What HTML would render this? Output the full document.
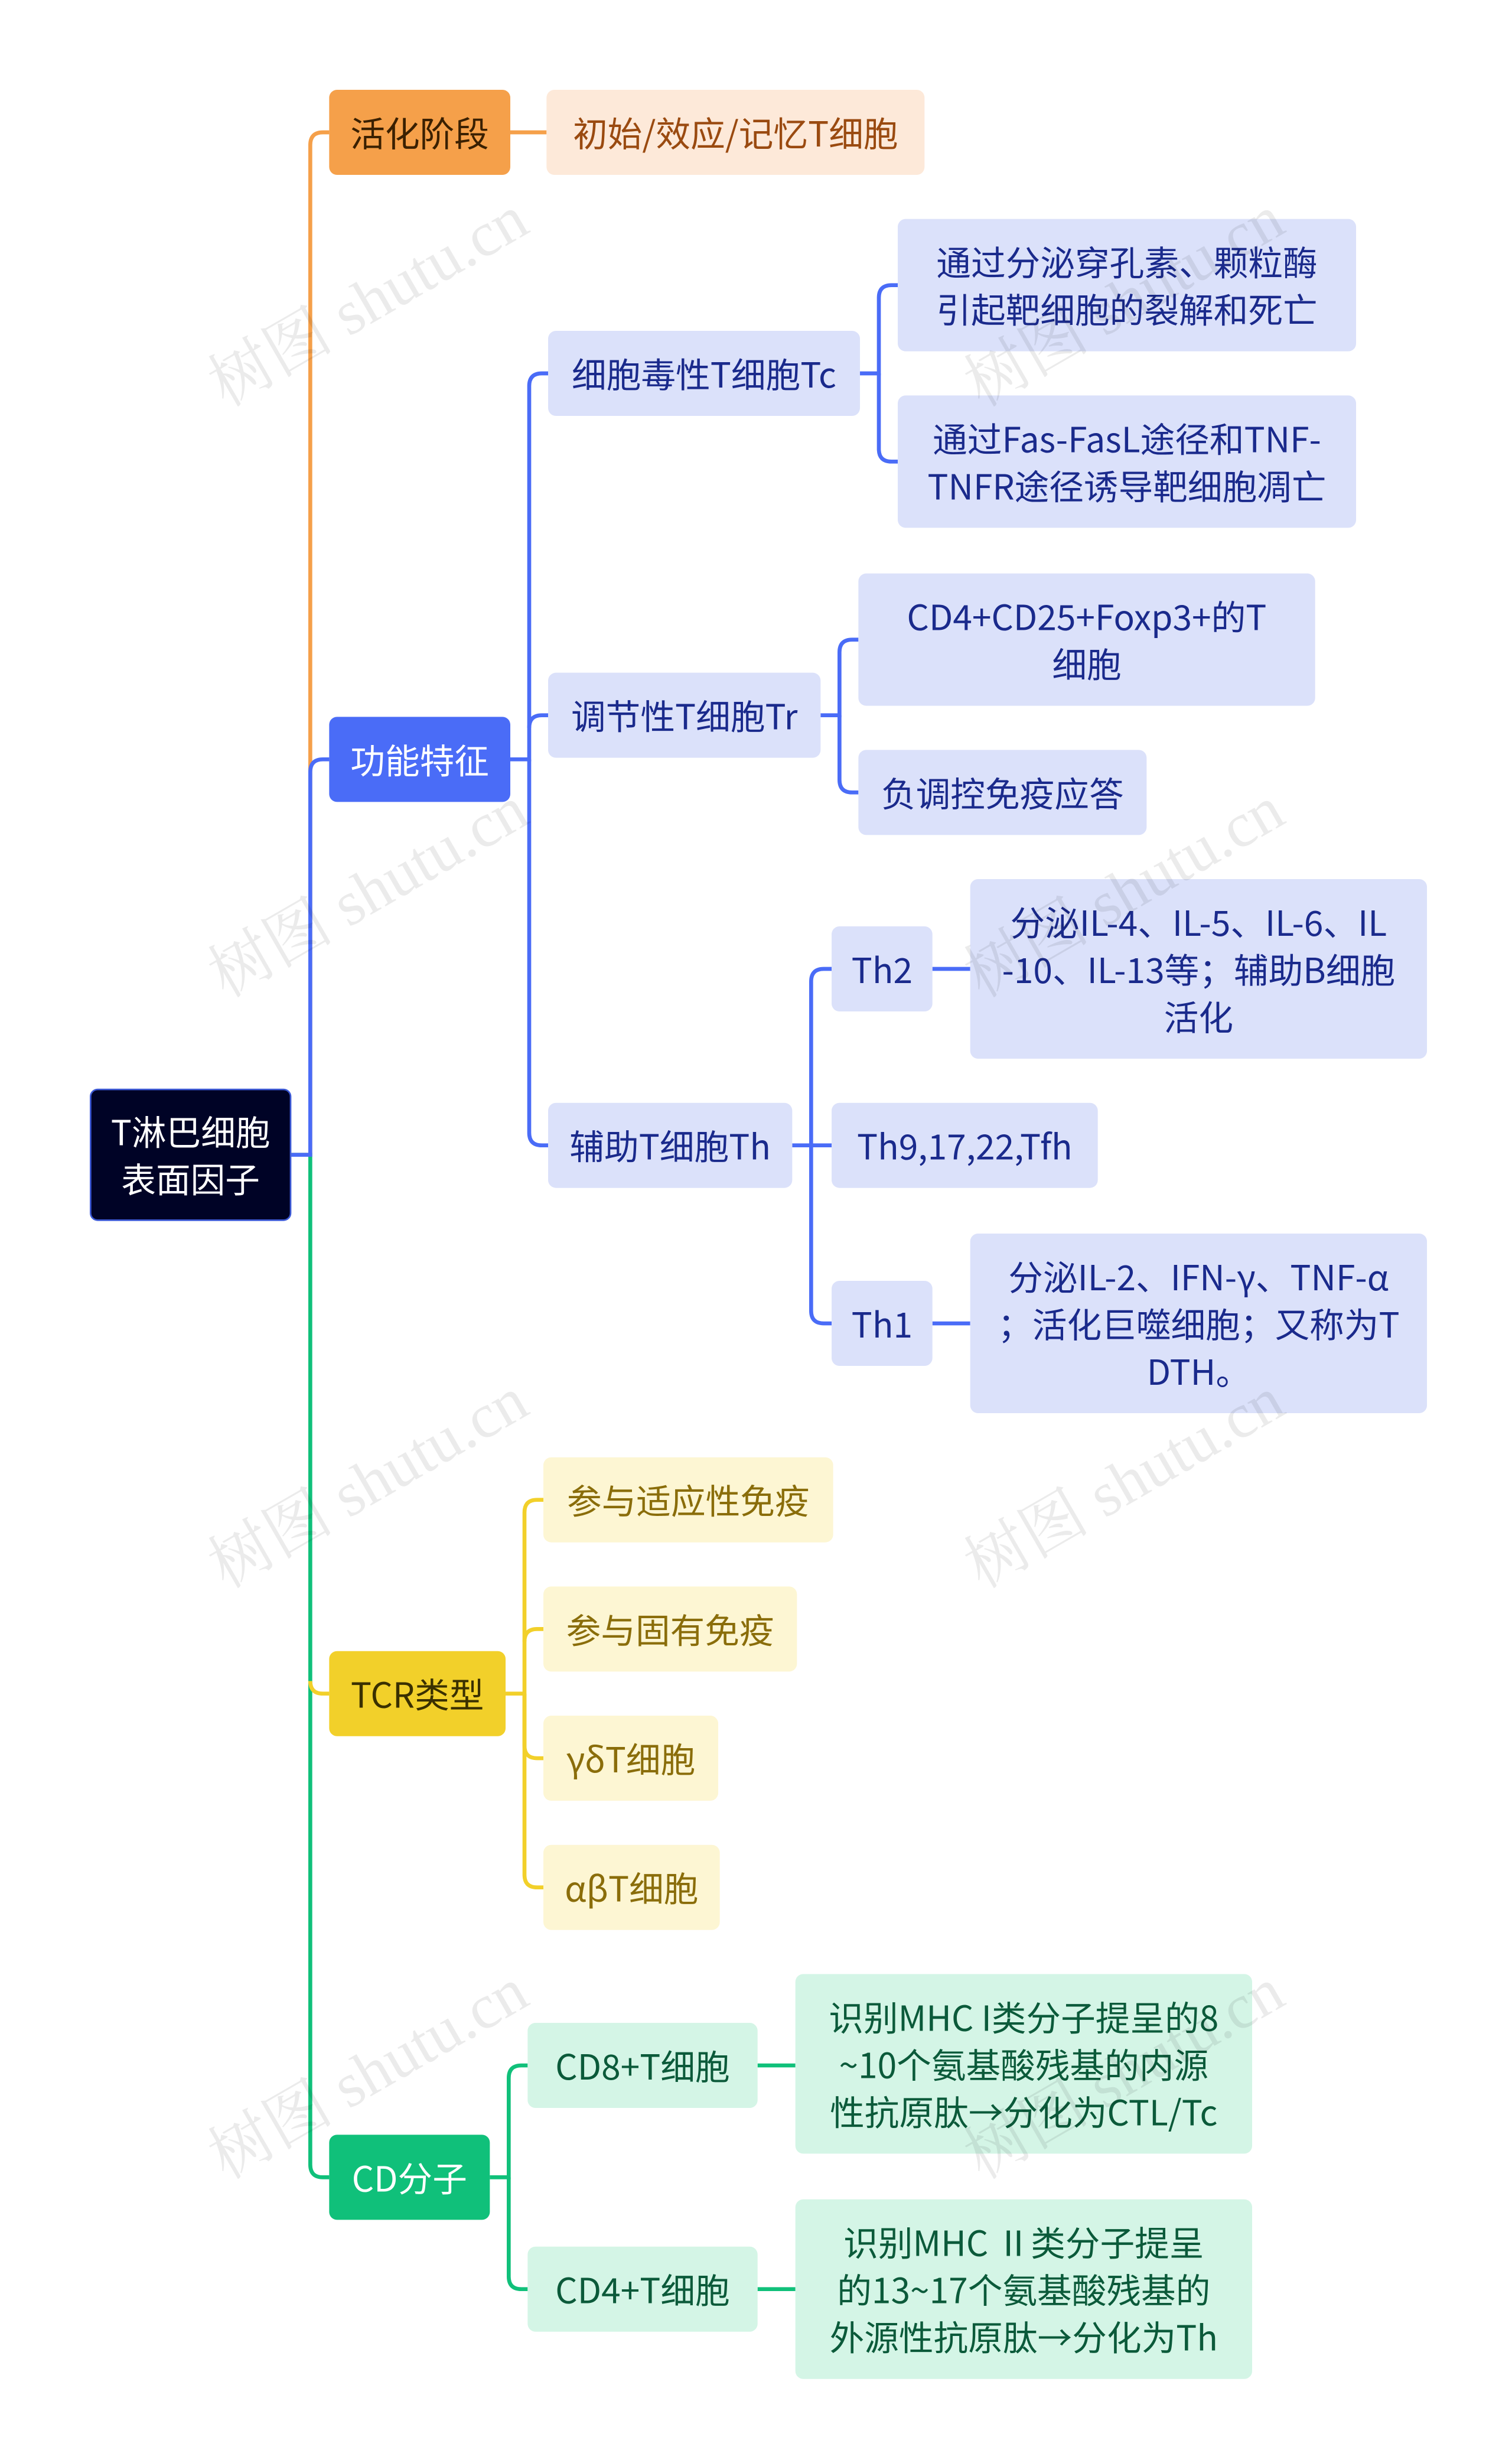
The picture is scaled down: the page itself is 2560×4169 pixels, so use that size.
<!DOCTYPE html>
<html><head><meta charset="utf-8"><style>
html,body{margin:0;padding:0;background:#fff;}
#wrap{width:2560px;height:4169px;overflow:hidden;position:relative;}
#c{position:absolute;left:0;top:0;width:960px;height:1563px;transform:scale(2.6667);transform-origin:0 0;font-family:"Noto Sans CJK SC","Liberation Sans",sans-serif;}
.n{position:absolute;box-sizing:border-box;border-radius:5px;display:flex;align-items:center;justify-content:center;text-align:center;font-size:22px;line-height:30px;}
.wm{position:absolute;font-family:"Liberation Serif","Noto Serif CJK SC",serif;font-size:40px;color:rgba(0,0,0,0.08);transform:rotate(-30deg);white-space:nowrap;}
.b{background:#dbe1fa;color:#1a2a8c;}
.y{background:#fdf6d3;color:#8a6d0a;}
.g{background:#d4f5e6;color:#0b5a3a;}
svg{position:absolute;left:0;top:0;}
</style></head><body><div id="wrap"><div id="c">
<svg width="960" height="1563" fill="none" stroke-width="2.5">
<g stroke="#f5a04a"><path d="M185 733 H197 V92 Q197 84 205 84 H209"/><path d="M324 84 H347"/></g>
<g stroke="#10c07a"><path d="M185 733 H197 V1374 Q197 1382 205 1382 H209"/>
<path d="M311 1382 H323 V1319 Q323 1311 331 1311 H335"/><path d="M323 1382 V1445 Q323 1453 331 1453 H335"/>
<path d="M481 1311 H505"/><path d="M481 1453 H505"/></g>
<g stroke="#f2d02a"><path d="M197 1067 Q197 1075 205 1075 H209"/>
<path d="M321 1075 H333 V960 Q333 952 341 952 H345"/><path d="M333 1042 Q333 1034 341 1034 H345"/>
<path d="M333 1075 V1108 Q333 1116 341 1116 H345"/><path d="M333 1075 V1190 Q333 1198 341 1198 H345"/></g>
<g stroke="#4a6cf7"><path d="M185 733 H197 V490 Q197 482 205 482 H209"/>
<path d="M324 482 H336 V245 Q336 237 344 237 H348"/><path d="M336 462 Q336 454 344 454 H348"/><path d="M336 482 V719 Q336 727 344 727 H348"/>
<path d="M546 237 H558 V189 Q558 181 566 181 H570"/><path d="M558 237 V285 Q558 293 566 293 H570"/>
<path d="M521 454 H533 V414 Q533 406 541 406 H545"/><path d="M533 454 V495 Q533 503 541 503 H545"/>
<path d="M503 727 H515 V623 Q515 615 523 615 H528"/><path d="M515 727 H528"/><path d="M515 727 V832 Q515 840 523 840 H528"/>
<path d="M592 615 H616"/><path d="M592 840 H616"/></g>
</svg>

<div class="n" style="left:57px;top:691px;width:128px;height:84px;background:#000326;border:1.5px solid #3d5ad6;color:#fff;">T淋巴细胞<br>表面因子</div>
<div class="n" style="left:209px;top:57px;width:115px;height:54px;background:#f5a04a;color:#3a2000;">活化阶段</div>
<div class="n" style="left:347px;top:57px;width:240px;height:54px;background:#fde9d9;color:#9a4a10;">初始/效应/记忆T细胞</div>
<div class="n" style="left:209px;top:455px;width:115px;height:54px;background:#4a6cf7;color:#fff;">功能特征</div>
<div class="n b" style="left:348px;top:210px;width:198px;height:54px;">细胞毒性T细胞Tc</div>
<div class="n b" style="left:570px;top:139px;width:291px;height:84px;">通过分泌穿孔素、颗粒酶<br>引起靶细胞的裂解和死亡</div>
<div class="n b" style="left:570px;top:251px;width:291px;height:84px;">通过Fas-FasL途径和TNF-<br>TNFR途径诱导靶细胞凋亡</div>
<div class="n b" style="left:348px;top:427px;width:173px;height:54px;">调节性T细胞Tr</div>
<div class="n b" style="left:545px;top:364px;width:290px;height:84px;">CD4+CD25+Foxp3+的T<br>细胞</div>
<div class="n b" style="left:545px;top:476px;width:183px;height:54px;">负调控免疫应答</div>
<div class="n b" style="left:348px;top:700px;width:155px;height:54px;">辅助T细胞Th</div>
<div class="n b" style="left:528px;top:588px;width:64px;height:54px;">Th2</div>
<div class="n b" style="left:616px;top:558px;width:290px;height:114px;">分泌IL-4、IL-5、IL-6、IL<br>-10、IL-13等；辅助B细胞<br>活化</div>
<div class="n b" style="left:528px;top:700px;width:169px;height:54px;">Th9,17,22,Tfh</div>
<div class="n b" style="left:528px;top:813px;width:64px;height:54px;">Th1</div>
<div class="n b" style="left:616px;top:783px;width:290px;height:114px;">分泌IL-2、IFN-γ、TNF-α<br>；活化巨噬细胞；又称为T<br>DTH。</div>
<div class="n" style="left:209px;top:1048px;width:112px;height:54px;background:#f2d02a;color:#3a3000;">TCR类型</div>
<div class="n y" style="left:345px;top:925px;width:184px;height:54px;">参与适应性免疫</div>
<div class="n y" style="left:345px;top:1007px;width:161px;height:54px;">参与固有免疫</div>
<div class="n y" style="left:345px;top:1089px;width:111px;height:54px;">γδT细胞</div>
<div class="n y" style="left:345px;top:1171px;width:112px;height:54px;">αβT细胞</div>
<div class="n" style="left:209px;top:1355px;width:102px;height:54px;background:#10c07a;color:#fff;">CD分子</div>
<div class="n g" style="left:335px;top:1284px;width:146px;height:54px;">CD8+T细胞</div>
<div class="n g" style="left:505px;top:1253px;width:290px;height:114px;">识别MHC I类分子提呈的8<br>~10个氨基酸残基的内源<br>性抗原肽→分化为CTL/Tc</div>
<div class="n g" style="left:335px;top:1426px;width:146px;height:54px;">CD4+T细胞</div>
<div class="n g" style="left:505px;top:1396px;width:290px;height:114px;">识别MHC Ⅱ类分子提呈<br>的13~17个氨基酸残基的<br>外源性抗原肽→分化为Th</div>

<div class="wm" style="left:120px;top:160px">树图 shutu.cn</div>
<div class="wm" style="left:120px;top:535px">树图 shutu.cn</div>
<div class="wm" style="left:120px;top:910px">树图 shutu.cn</div>
<div class="wm" style="left:120px;top:1285px">树图 shutu.cn</div>
<div class="wm" style="left:600px;top:160px">树图 shutu.cn</div>
<div class="wm" style="left:600px;top:535px">树图 shutu.cn</div>
<div class="wm" style="left:600px;top:910px">树图 shutu.cn</div>
<div class="wm" style="left:600px;top:1285px">树图 shutu.cn</div>
</div></div></body></html>
